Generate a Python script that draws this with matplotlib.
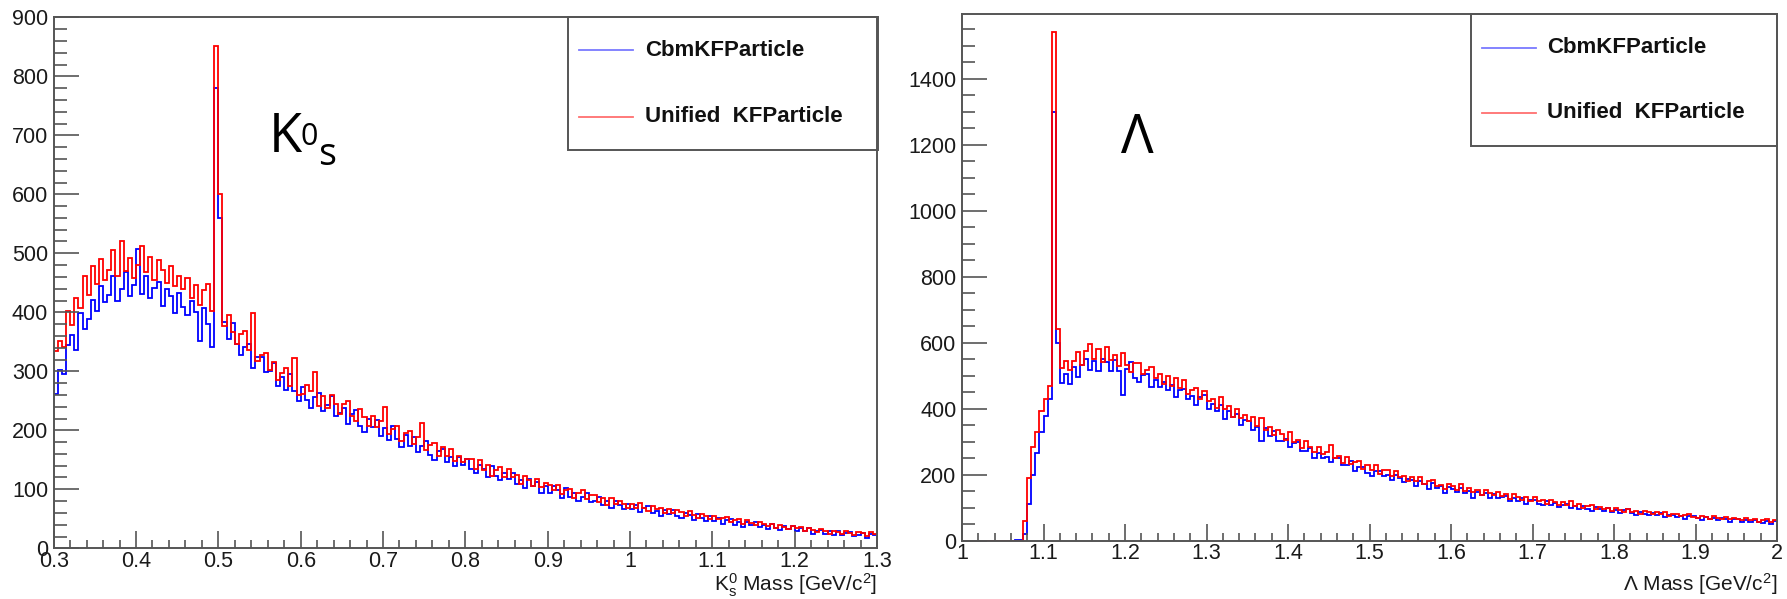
import numpy as np
import matplotlib
matplotlib.use('Agg')
import matplotlib.pyplot as plt
from matplotlib.ticker import MultipleLocator, FormatStrFormatter
from matplotlib.patches import Rectangle
from matplotlib.lines import Line2D

plt.rcParams['font.family'] = ['Liberation Sans', 'DejaVu Sans']
plt.rcParams['mathtext.fontset'] = 'custom'
plt.rcParams['mathtext.rm'] = 'Liberation Sans'
plt.rcParams['mathtext.it'] = 'Liberation Sans:italic'

# K0s invariant mass, 5 MeV bins from 0.3 to 1.3 GeV/c2
k0_range = (0.3, 1.3)
k0_cbm = [
    262, 302, 296, 345, 362, 336, 398, 372, 388, 421,
    402, 445, 418, 430, 462, 419, 440, 468, 428, 446,
    508, 431, 462, 425, 441, 452, 410, 439, 428, 398,
    432, 409, 395, 420, 401, 352, 408, 381, 342, 780,
    560, 383, 354, 382, 346, 327, 341, 347, 306, 325,
    325, 299, 300, 314, 275, 291, 269, 295, 266, 250,
    274, 252, 237, 256, 264, 233, 243, 258, 225, 229,
    238, 211, 228, 234, 208, 197, 220, 205, 217, 190,
    204, 183, 207, 186, 172, 192, 174, 189, 164, 173,
    182, 158, 150, 165, 168, 146, 155, 139, 155, 141,
    151, 135, 127, 142, 135, 121, 139, 122, 116, 128,
    117, 128, 109, 115, 103, 118, 106, 112, 94, 106,
    94, 105, 98, 86, 102, 87, 94, 81, 87, 93,
    78, 80, 87, 73, 80, 68, 81, 74, 67, 75,
    66, 74, 62, 69, 71, 59, 64, 55, 65, 58,
    65, 55, 52, 60, 57, 48, 58, 51, 47, 55,
    46, 52, 42, 48, 50, 40, 44, 36, 44, 40,
    44, 36, 40, 33, 42, 34, 31, 37, 33, 37,
    29, 34, 29, 34, 25, 30, 31, 24, 29, 22,
    29, 23, 26, 28, 21, 22, 26, 18, 24, 23,
]
k0_unified = [
    335, 352, 342, 402, 378, 425, 408, 462, 430, 478,
    448, 490, 455, 472, 505, 462, 520, 470, 492, 458,
    480, 512, 468, 494, 455, 488, 472, 450, 478, 445,
    462, 440, 458, 425, 446, 412, 438, 448, 402, 851,
    600, 376, 395, 367, 346, 364, 368, 336, 398, 318,
    327, 331, 302, 315, 286, 297, 306, 275, 322, 259,
    262, 277, 266, 298, 241, 258, 238, 260, 244, 227,
    244, 250, 224, 216, 236, 223, 207, 225, 205, 216,
    240, 193, 202, 207, 182, 195, 198, 177, 188, 212,
    167, 175, 178, 156, 171, 157, 168, 148, 157, 147,
    151, 152, 135, 149, 133, 141, 123, 133, 137, 121,
    135, 120, 125, 109, 122, 115, 105, 118, 104, 111,
    107, 99, 107, 92, 99, 101, 86, 93, 98, 84,
    91, 91, 79, 85, 74, 86, 75, 81, 75, 69,
    75, 69, 76, 69, 63, 71, 67, 69, 60, 66,
    59, 65, 62, 54, 63, 57, 52, 58, 55, 50,
    55, 49, 52, 53, 44, 48, 49, 42, 48, 43,
    39, 44, 41, 37, 42, 34, 39, 36, 33, 37,
    35, 36, 30, 34, 31, 27, 33, 30, 25, 30,
    28, 24, 30, 26, 22, 27, 26, 21, 28, 24,
]

# Lambda invariant mass, 5 MeV bins from 1.0 to 2.0 GeV/c2
lam_range = (1.0, 2.0)
lam_cbm = [
    0, 0, 0, 0, 0, 0, 0, 0, 0, 0,
    0, 0, 0, 2, 3, 20, 110, 200, 265, 330,
    378, 428, 1300, 600, 478, 505, 475, 525, 497, 532,
    550, 516, 543, 513, 550, 541, 513, 547, 514, 440,
    519, 540, 493, 480, 503, 504, 467, 486, 465, 482,
    457, 472, 435, 456, 460, 428, 438, 412, 435, 442,
    399, 413, 392, 410, 368, 392, 374, 384, 350, 366,
    364, 334, 346, 302, 342, 318, 333, 302, 303, 308,
    283, 296, 299, 271, 271, 280, 250, 267, 250, 255,
    238, 250, 250, 228, 229, 240, 210, 222, 224, 206,
    197, 210, 212, 195, 200, 184, 198, 189, 177, 188,
    183, 167, 180, 173, 158, 174, 161, 166, 145, 164,
    156, 147, 160, 145, 150, 129, 149, 139, 144, 130,
    141, 128, 133, 136, 119, 130, 121, 128, 111, 122,
    122, 112, 108, 121, 109, 114, 101, 109, 111, 99,
    106, 97, 106, 97, 91, 101, 96, 89, 100, 88,
    92, 84, 92, 97, 83, 79, 88, 82, 77, 84,
    77, 83, 73, 79, 79, 71, 75, 67, 75, 76,
    68, 62, 73, 67, 69, 62, 68, 66, 58, 65,
    65, 57, 63, 57, 64, 57, 54, 61, 52, 59,
]
lam_unified = [
    0, 0, 0, 0, 0, 0, 0, 0, 0, 0,
    0, 0, 0, 0, 0, 60, 190, 285, 330, 392,
    430, 468, 1540, 640, 522, 545, 518, 545, 572, 533,
    575, 597, 550, 580, 541, 586, 547, 563, 529, 568,
    532, 511, 538, 538, 504, 516, 527, 492, 505, 476,
    498, 470, 493, 462, 486, 444, 458, 463, 429, 455,
    423, 430, 402, 435, 399, 408, 374, 400, 372, 380,
    362, 376, 348, 372, 334, 344, 320, 336, 323, 306,
    328, 298, 306, 281, 303, 285, 269, 285, 262, 268,
    289, 250, 258, 236, 254, 232, 238, 240, 218, 228,
    215, 229, 202, 214, 214, 196, 212, 192, 197, 182,
    194, 182, 192, 172, 181, 185, 165, 170, 158, 172,
    165, 154, 173, 151, 160, 148, 154, 139, 154, 145,
    137, 147, 135, 140, 126, 140, 132, 123, 132, 121,
    132, 119, 123, 112, 123, 116, 109, 117, 107, 120,
    104, 111, 100, 105, 107, 95, 102, 95, 100, 89,
    99, 94, 88, 96, 87, 91, 82, 90, 86, 81,
    86, 80, 86, 76, 81, 82, 74, 77, 80, 72,
    69, 75, 73, 66, 74, 70, 65, 71, 65, 68,
    67, 62, 68, 62, 66, 58, 63, 66, 58, 64,
]

labels = ['CbmKFParticle', 'Unified  KFParticle']

W, H = 1787, 599
fig = plt.figure(figsize=(W / 100, H / 100), dpi=100)


def fx(x):
    return x / W


def fy(y):
    return 1 - y / H


def panel(box, rng, cbm, unified, ymax, ymaj, ymin, xlabel):
    l, t, r, b = box
    ax = fig.add_axes([fx(l), fy(b), (r - l) / W, (b - t) / H])
    edges = np.linspace(rng[0], rng[1], len(cbm) + 1)
    ax.stairs(cbm, edges, baseline=None, color='#0000ff', lw=1.3)
    ax.stairs(unified, edges, baseline=None, color='#ff0000', lw=1.3)
    ax.set_xlim(rng)
    ax.set_ylim(0, ymax)
    ax.xaxis.set_major_locator(MultipleLocator(0.1))
    ax.xaxis.set_minor_locator(MultipleLocator(0.02))
    ax.xaxis.set_major_formatter(FormatStrFormatter('%g'))
    ax.yaxis.set_major_locator(MultipleLocator(ymaj))
    ax.yaxis.set_minor_locator(MultipleLocator(ymin))
    ax.tick_params(which='both', direction='in', color='#555555',
                   labelsize=15.5, labelcolor='#1a1a1a', width=1.2)
    ax.tick_params(axis='y', which='major', length=18, pad=4)
    ax.tick_params(axis='y', which='minor', length=9.5)
    ax.tick_params(axis='x', which='major', length=12, pad=2)
    ax.tick_params(axis='x', which='minor', length=6)
    for s in ax.spines.values():
        s.set_color('#555555')
        s.set_linewidth(1.4)
    ax.text(1.0, (b - 591) / (b - t), xlabel, transform=ax.transAxes,
            ha='right', va='baseline', fontsize=15, color='#1a1a1a')
    return ax


def legend(box, line_x, text_x, ys):
    l, t, r, b = box
    fig.add_artist(Rectangle((fx(l), fy(b)), (r - l) / W, (b - t) / H,
                             transform=fig.transFigure, fill=False,
                             edgecolor='#555555', lw=1.4))
    for y, c, lab in zip(ys, ['#7a7aff', '#ff7070'], labels):
        fig.add_artist(Line2D([fx(line_x[0]), fx(line_x[1])], [fy(y), fy(y)],
                              transform=fig.transFigure, color=c, lw=1.3))
        fig.text(fx(text_x), fy(y), lab, ha='left', va='center',
                 fontsize=16, fontweight='bold', color='#111111')


panel((53.7, 17.3, 877, 548.3), k0_range, k0_cbm, k0_unified, 900, 100, 20,
      r'$\mathregular{K^0_s}$ Mass [GeV/c$^\mathregular{2}$]')
panel((962, 14.3, 1777, 540.7), lam_range, lam_cbm, lam_unified, 1595, 200, 50,
      r'Λ Mass [GeV/c$^\mathregular{2}$]')

legend((568.3, 17.3, 877.7, 149.7), (579, 633), 645, (50, 116.7))
legend((1470.7, 14.3, 1776.7, 146), (1482, 1536), 1547, (47.7, 113))

# particle labels
big = ['Open Sans', 'DejaVu Sans']
fig.text(fx(269), fy(152), 'K', fontsize=39, family=big, va='baseline')
fig.text(fx(301), fy(145), '0', fontsize=22, family=big, va='baseline')
fig.text(fx(318), fy(165), 's', fontsize=27, family=big, va='baseline')
fig.text(fx(1121), fy(153), 'Λ', fontsize=39, family=big, va='baseline')

fig.savefig('out.png', dpi=100)
